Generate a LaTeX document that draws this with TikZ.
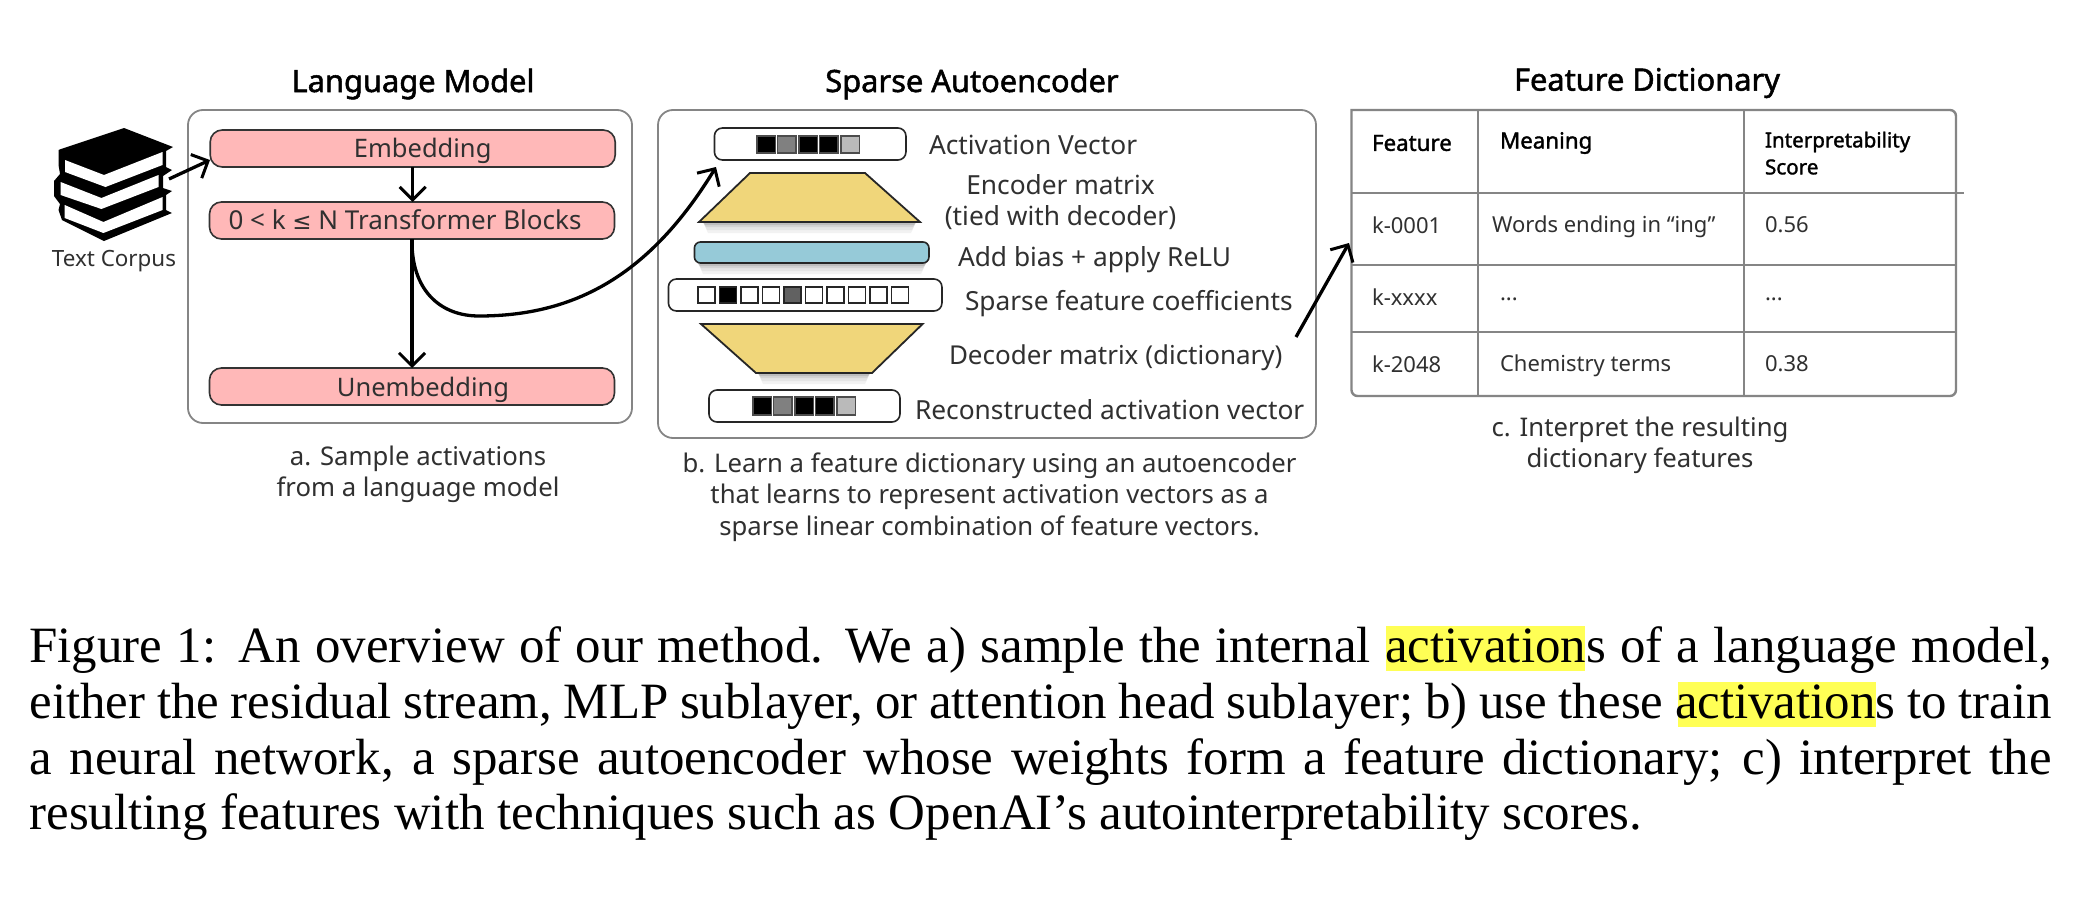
\documentclass[tikz,border=0pt]{standalone}
\usepackage{fontspec}
\setmainfont{Liberation Serif}
\newfontfamily\dsans{Noto Sans}
\newfontfamily\dsansb[FakeBold=1.6]{Noto Sans}
\newfontfamily\djv{DejaVu Sans}
\usetikzlibrary{arrows.meta}
\definecolor{pinkbox}{HTML}{FFB8B8}
\definecolor{goldbox}{HTML}{F0D67A}
\definecolor{bluebox}{HTML}{96CAD8}
\definecolor{hilite}{HTML}{FFFF55}
\definecolor{txt}{HTML}{303030}
\definecolor{edgegray}{HTML}{858585}
\newcommand{\fsz}[1]{\fontsize{#1pt}{#1pt}\selectfont}
\newcommand{\basetext}[2]{\raisebox{-#1pt}[0pt][0pt]{#2}}
\tikzset{
 x=1pt,y=-1pt,
 every node/.style={inner sep=0pt,outer sep=0pt,font=\dsans,text=txt},
 conn/.style={draw=black,line width=3.3pt,-{Straight Barb[length=13pt,width=26pt,line width=3pt]}},
 panel/.style={draw=edgegray,line width=1.8pt,rounded corners=15pt},
 layerbox/.style={draw=black!80,line width=1.6pt,fill=pinkbox,rounded corners=12pt,minimum width=405pt,minimum height=37pt,font=\dsans\fsz{25.5}},
 vecbox/.style={draw=black!85,line width=1.6pt,fill=white,rounded corners=8pt,minimum height=32pt},
 headtext/.style={font=\dsansb\fsz{30.8},text=black},
 labtext/.style={font=\dsans\fsz{26.3}},
 captext/.style={font=\dsans\fsz{25.7},align=center},
 thtext/.style={font=\dsansb\fsz{22.3},anchor=west,text=black},
 tdtext/.style={font=\dsans\fsz{22},anchor=west},
 capline/.style={anchor=base west,text=black,font=\rmfamily\fsz{50.9}},
 trapshape/.style={draw=black!85,line width=1.8pt,fill=goldbox,line join=miter},
}
% soft grey band under a shape: darkest next to the shape, fading downwards
\newcommand{\softshadow}[3]{%
 \fill[black!5]  (#1,#2)--(#3,#2)--(#3-5,#2+11)--(#1+5,#2+11)--cycle;
 \fill[black!10] (#1,#2)--(#3,#2)--(#3-4,#2+8)--(#1+4,#2+8)--cycle;
 \fill[black!17] (#1,#2)--(#3,#2)--(#3-3,#2+5)--(#1+3,#2+5)--cycle;
 \fill[black!26] (#1,#2)--(#3,#2)--(#3-2,#2+3)--(#1+2,#2+3)--cycle;}
\begin{document}
\begin{tikzpicture}
\useasboundingbox (0,0) rectangle (2094,902);
\fill[white] (0,0) rectangle (2094,902);

% --- books
\fill[black,line join=round] (124,128)--(173,147)--(166,151)--(166,167)--(172,170)--(163,176)--(163,188)--(172,191)--(166,195)--(166,210)--(172,213)--(104,241)--(62,220)--(58.5,210)--(60,204)--(54,196)--(54,181)--(60,174)--(58.5,165)--(58.5,150)--(61,149)--cycle;
\fill[white] (65,160)--(104,175)--(162.5,152)--(162.5,165)--(105.5,187)--(65,172)--cycle;
\fill[white] (60.6,182)--(101.4,198)--(158.5,175)--(158.5,187)--(101.4,209)--(60.6,195)--cycle;
\fill[white] (64.7,205)--(103.4,222)--(162.6,197)--(162.6,210)--(103.4,233)--(64.7,218)--cycle;
\node[font=\dsans\fsz{22.4}] (corpus) at (114,261) {Text Corpus};

% --- language model
\node[headtext] (tlm) at (413,84) {Language Model};
\draw[panel] (188,110) rectangle (632,423);
\node[layerbox] (embed) at (412.7,148.5) {\hspace*{20pt}\basetext{8.5}{Embedding}};
\node[layerbox,font=\dsans\fsz{26}] (trans) at (412,220.5) {\basetext{9}{0 < k {\djv\fsz{23}≤} N Transformer Blocks}\hspace*{14pt}};
\node[layerbox] (unemb) at (412,386.5) {\hspace*{22pt}\basetext{10}{Unembedding}};
\node[captext] (capa) at (418,474.5) {a. Sample activations\\[4pt]from a language model};

% --- sparse autoencoder
\node[headtext] (tsae) at (972,84) {Sparse Autoencoder};
\draw[panel] (658,110) rectangle (1316,438);

\node[vecbox,minimum width=191.5pt] (av) at (810.2,144) {};
\foreach \a/\c in {757/black,777.5/black!50,799/black,819.5/black,841/black!27}
  \draw[fill=\c,draw=black!70,line width=1.2pt] (\a,136) rectangle +(18.5,17);
\node[labtext,anchor=west] (lav) at (929,145) {Activation Vector};

\softshadow{703}{222}{916}
\draw[trapshape] (750,173)--(865,173)--(920,222)--(699,222)--cycle;
\node[labtext,align=center] (lenc) at (1060.5,202) {Encoder matrix\\[4pt](tied with decoder)};

\softshadow{698}{263}{926}
\node[draw=black!85,line width=1.6pt,fill=bluebox,rounded corners=6pt,minimum width=234.5pt,minimum height=21pt] (bias) at (811.7,252.5) {};
\node[labtext,anchor=west] (lbias) at (958,260) {Add bias + apply ReLU};

\node[vecbox,minimum width=273.5pt] (sf) at (805.2,295) {};
\foreach \i/\c in {0/white,1/black,2/white,3/white,4/black!62,5/white,6/white,7/white,8/white,9/white}
  \draw[fill=\c,draw=black!85,line width=1.3pt] ({698+\i*21.5},287) rectangle +(17,16);
\node[labtext,anchor=west] (lsf) at (965,304) {Sparse feature coefficients};

\softshadow{758}{373}{870}
\draw[trapshape] (701,324)--(922.6,324)--(872,373)--(756,373)--cycle;
\node[labtext,anchor=west,font=\dsans\fsz{26}] (ldec) at (949,358) {Decoder matrix (dictionary)};

\node[vecbox,minimum width=191pt] (rv) at (804.5,406) {};
\foreach \a/\c in {753/black,773.5/black!50,795/black,815.5/black,837/black!27}
  \draw[fill=\c,draw=black!70,line width=1.2pt] (\a,397) rectangle +(18.5,18);
\node[labtext,anchor=west] (lrv) at (915,410) {Reconstructed activation vector};

\node[captext] (capb) at (989.5,497.5) {b. Learn a feature dictionary using an autoencoder\\[5pt]that learns to represent activation vectors as a\\[5pt]sparse linear combination of feature vectors.};

% --- feature dictionary
\node[headtext] (tfd) at (1647,83) {Feature Dictionary};
\draw[edgegray,line width=2.4pt] (1351.5,110) [rounded corners=6pt] -- (1956,110) -- (1956,396) -- (1351.5,396) [sharp corners] -- cycle;
\draw[edgegray,line width=2.4pt] (1478,110)--(1478,396) (1744,110)--(1744,396)
  (1351.5,193)--(1964,193) (1351.5,265)--(1956,265) (1351.5,332)--(1956,332);
\node[thtext] (h1) at (1372,143) {Feature};
\node[thtext] (h2) at (1500,143) {Meaning};
\node[thtext,font=\dsansb\fsz{20.6}] (h3) at (1765,142) {Interpretability};
\node[thtext,font=\dsansb\fsz{20.6}] (h4) at (1765,167) {Score};
\node[tdtext] (r11) at (1372,225) {k-0001};
\node[tdtext] (r12) at (1492,227) {Words ending in “ing”};
\node[tdtext] (r13) at (1765,225) {0.56};
\node[tdtext] (r21) at (1372,297) {k-xxxx};
\node[tdtext] (r22) at (1500,299) {...};
\node[tdtext] (r23) at (1765,299) {...};
\node[tdtext] (r31) at (1372,364) {k-2048};
\node[tdtext] (r32) at (1500,366) {Chemistry terms};
\node[tdtext] (r33) at (1765,364) {0.38};
\node[captext] (capc) at (1640,445) {c. Interpret the resulting\\[4pt]dictionary features};

% --- connectors
\coordinate (bookout) at (169,179);
\coordinate (embedin) at (210,160);
\coordinate (curvelow) at (479,316);
\coordinate (avin) at (716,167);
\coordinate (saeout) at (1296,337);
\coordinate (tablein) at (1349,243);
\draw[conn] (bookout) -- (embedin);
\draw[conn] (embed.south) -- (embed.south |- trans.north);
\draw[conn] (trans.south) -- (unemb.north);
\draw[conn] (trans.south) .. controls (411,290) and (440,316) .. (curvelow) .. controls (575,316) and (650,275) .. (avin);
\draw[conn] (saeout) -- (tablein);

% --- figure caption
\fill[hilite] (1386,626) rectangle (1585,671);
\fill[hilite] (1678,682) rectangle (1876,727);
\node[capline] (c1) at (29.5,662) {\hbox to 2022pt{Figure 1:\hskip .42em plus .1em An overview of our method.\hskip .42em plus .1em We a) sample the internal activations of a language model,}};
\node[capline] (c2) at (29.5,718) {\hbox to 2022pt{either the residual stream, MLP sublayer, or attention head sublayer; b) use these activations to train}};
\node[capline] (c3) at (29.5,774) {\hbox to 2022pt{a neural network, a sparse autoencoder whose weights form a feature dictionary; c) interpret the}};
\node[capline] (c4) at (29.5,829) {resulting features with techniques such as OpenAI’s autointerpretability scores.};
\end{tikzpicture}
\end{document}
